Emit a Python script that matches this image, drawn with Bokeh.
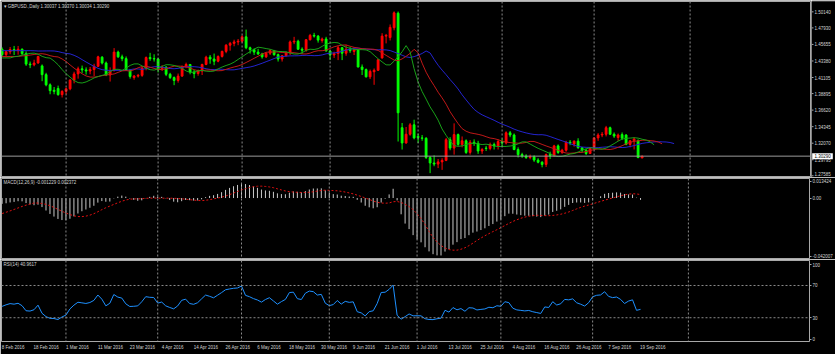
import numpy as np
from bokeh.plotting import figure
from bokeh.models import (Range1d, FixedTicker, Span, Label, ColumnDataSource)
from bokeh.layouts import column, row
from bokeh.core.properties import value
from bokeh.embed import file_html
from bokeh.resources import INLINE

# ---------------- data ----------------
CHART_TITLE = "\u25be GBPUSD.,Daily  1.30037 1.30370 1.30034 1.30290"
MACD_TITLE = "MACD(12,26,9) -0.001229 0.002372"
RSI_TITLE = "RSI(14) 40.9617"

OPEN = [
    1.4500, 1.4425, 1.4465, 1.4495, 1.4480, 1.4500, 1.4440, 1.4295, 1.4285, 1.4310,
    1.4270, 1.4150, 1.4010, 1.3935, 1.3960, 1.3875, 1.3920, 1.3955, 1.4075, 1.4160,
    1.4230, 1.4215, 1.4200, 1.4220, 1.4265, 1.4390, 1.4310, 1.4145, 1.4205, 1.4460,
    1.4395, 1.4370, 1.4210, 1.4110, 1.4130, 1.4140, 1.4240, 1.4385, 1.4370, 1.4365,
    1.4230, 1.4255, 1.4155, 1.4110, 1.4070, 1.4130, 1.4260, 1.4290, 1.4185, 1.4165,
    1.4200, 1.4290, 1.4390, 1.4365, 1.4335, 1.4400, 1.4470, 1.4555, 1.4580, 1.4600,
    1.4610, 1.4670, 1.4520, 1.4495, 1.4460, 1.4435, 1.4395, 1.4445, 1.4480, 1.4425,
    1.4365, 1.4410, 1.4450, 1.4600, 1.4610, 1.4500, 1.4485, 1.4630, 1.4690, 1.4680,
    1.4620, 1.4640, 1.4475, 1.4420, 1.4440, 1.4520, 1.4445, 1.4500, 1.4470, 1.4490,
    1.4255, 1.4220, 1.4120, 1.4190, 1.4210, 1.4380, 1.4680, 1.4660, 1.4795, 1.4995,
    1.3420, 1.3210, 1.3330, 1.3460, 1.3300, 1.3280, 1.3275, 1.3010, 1.2935, 1.2920,
    1.2950, 1.2970, 1.3255, 1.3140, 1.3325, 1.3190, 1.3240, 1.3080, 1.3220, 1.3205,
    1.3100, 1.3140, 1.3135, 1.3190, 1.3170, 1.3230, 1.3210, 1.3350, 1.3320, 1.3120,
    1.3050, 1.3030, 1.3010, 1.3020, 1.2975, 1.2945, 1.2915, 1.3050, 1.3035, 1.3170,
    1.3080, 1.3110, 1.3220, 1.3195, 1.3235, 1.3145, 1.3110, 1.3065, 1.3135, 1.3280,
    1.3320, 1.3330, 1.3420, 1.3330, 1.3285, 1.3325, 1.3320, 1.3190, 1.3240, 1.3240,
    1.30037]
HIGH = [
    1.4525, 1.4480, 1.4530, 1.4545, 1.4545, 1.4510, 1.4470, 1.4330, 1.4355, 1.4410,
    1.4290, 1.4175, 1.4030, 1.3980, 1.3999, 1.3935, 1.3970, 1.4090, 1.4190, 1.4260,
    1.4275, 1.4250, 1.4255, 1.4300, 1.4410, 1.4405, 1.4330, 1.4250, 1.4515, 1.4480,
    1.4425, 1.4400, 1.4225, 1.4145, 1.4160, 1.4260, 1.4400, 1.4450, 1.4430, 1.4380,
    1.4280, 1.4265, 1.4175, 1.4125, 1.4165, 1.4275, 1.4315, 1.4295, 1.4215, 1.4220,
    1.4300, 1.4410, 1.4420, 1.4440, 1.4415, 1.4480, 1.4570, 1.4600, 1.4630, 1.4640,
    1.4690, 1.4770, 1.4535, 1.4510, 1.4505, 1.4450, 1.4460, 1.4500, 1.4490, 1.4440,
    1.4420, 1.4470, 1.4620, 1.4670, 1.4630, 1.4525, 1.4640, 1.4710, 1.4725, 1.4695,
    1.4660, 1.4670, 1.4480, 1.4465, 1.4550, 1.4530, 1.4560, 1.4530, 1.4525, 1.4500,
    1.4290, 1.4235, 1.4220, 1.4235, 1.4360, 1.4720, 1.4710, 1.4840, 1.5020, 1.5018,
    1.3485, 1.3430, 1.3485, 1.3530, 1.3340, 1.3320, 1.3290, 1.3030, 1.3040, 1.2990,
    1.3000, 1.3280, 1.3290, 1.3480, 1.3340, 1.3300, 1.3260, 1.3250, 1.3260, 1.3240,
    1.3140, 1.3170, 1.3215, 1.3215, 1.3260, 1.3270, 1.3370, 1.3375, 1.3340, 1.3150,
    1.3075, 1.3055, 1.3050, 1.3040, 1.3000, 1.2960, 1.3065, 1.3090, 1.3185, 1.3190,
    1.3130, 1.3240, 1.3250, 1.3245, 1.3275, 1.3155, 1.3130, 1.3150, 1.3290, 1.3345,
    1.3360, 1.3445, 1.3435, 1.3355, 1.3340, 1.3355, 1.3330, 1.3250, 1.3290, 1.3260,
    1.30370]
LOW = [
    1.4395, 1.4385, 1.4430, 1.4420, 1.4425, 1.4415, 1.4270, 1.4240, 1.4265, 1.4300,
    1.4060, 1.3990, 1.3880, 1.3880, 1.3860, 1.3836, 1.3880, 1.3935, 1.4030, 1.4095,
    1.4170, 1.4150, 1.4155, 1.4130, 1.4255, 1.4290, 1.4130, 1.4055, 1.4195, 1.4380,
    1.4335, 1.4200, 1.4095, 1.4080, 1.4110, 1.4120, 1.4210, 1.4340, 1.4330, 1.4180,
    1.4200, 1.4130, 1.4090, 1.4005, 1.4040, 1.4120, 1.4240, 1.4155, 1.4100, 1.4135,
    1.4145, 1.4280, 1.4300, 1.4280, 1.4320, 1.4385, 1.4445, 1.4480, 1.4540, 1.4555,
    1.4590, 1.4500, 1.4440, 1.4420, 1.4420, 1.4370, 1.4380, 1.4420, 1.4410, 1.4330,
    1.4330, 1.4400, 1.4420, 1.4570, 1.4490, 1.4435, 1.4465, 1.4620, 1.4660, 1.4590,
    1.4590, 1.4470, 1.4350, 1.4380, 1.4350, 1.4350, 1.4410, 1.4450, 1.4420, 1.4250,
    1.4145, 1.4110, 1.4090, 1.4010, 1.4200, 1.4370, 1.4580, 1.4620, 1.4760, 1.3230,
    1.3120, 1.3200, 1.3310, 1.3260, 1.3210, 1.3240, 1.2990, 1.2795, 1.2890, 1.2865,
    1.2840, 1.2960, 1.3110, 1.3050, 1.3170, 1.3150, 1.3060, 1.3050, 1.3170, 1.3060,
    1.3060, 1.3100, 1.3110, 1.3120, 1.3120, 1.3160, 1.3190, 1.3290, 1.3110, 1.3010,
    1.3005, 1.2990, 1.2985, 1.2950, 1.2930, 1.2875, 1.2880, 1.2990, 1.3020, 1.3060,
    1.3060, 1.3090, 1.3180, 1.3160, 1.3130, 1.3080, 1.3045, 1.3060, 1.3110, 1.3240,
    1.3290, 1.3300, 1.3320, 1.3280, 1.3240, 1.3250, 1.3180, 1.3150, 1.3120, 1.3000,
    1.30034]
CLOSE = [
    1.4425, 1.4465, 1.4495, 1.4480, 1.4500, 1.4440, 1.4295, 1.4285, 1.4310, 1.4400,
    1.4150, 1.4010, 1.3930, 1.3920, 1.3875, 1.3920, 1.3955, 1.4075, 1.4160, 1.4230,
    1.4215, 1.4200, 1.4220, 1.4265, 1.4395, 1.4310, 1.4145, 1.4205, 1.4460, 1.4395,
    1.4370, 1.4210, 1.4125, 1.4130, 1.4140, 1.4240, 1.4385, 1.4370, 1.4365, 1.4230,
    1.4255, 1.4155, 1.4110, 1.4070, 1.4130, 1.4260, 1.4290, 1.4185, 1.4165, 1.4200,
    1.4290, 1.4390, 1.4365, 1.4335, 1.4400, 1.4470, 1.4555, 1.4580, 1.4600, 1.4610,
    1.4670, 1.4520, 1.4495, 1.4460, 1.4435, 1.4395, 1.4445, 1.4480, 1.4425, 1.4365,
    1.4410, 1.4450, 1.4600, 1.4610, 1.4500, 1.4485, 1.4630, 1.4690, 1.4680, 1.4625,
    1.4640, 1.4475, 1.4420, 1.4440, 1.4520, 1.4445, 1.4500, 1.4480, 1.4490, 1.4255,
    1.4220, 1.4120, 1.4195, 1.4210, 1.4355, 1.4680, 1.4690, 1.4800, 1.5000, 1.3625,
    1.3210, 1.3330, 1.3460, 1.3280, 1.3285, 1.3275, 1.3010, 1.2935, 1.2920, 1.2950,
    1.2970, 1.3255, 1.3140, 1.3325, 1.3190, 1.3240, 1.3080, 1.3220, 1.3205, 1.3100,
    1.3120, 1.3135, 1.3190, 1.3170, 1.3230, 1.3210, 1.3350, 1.3320, 1.3120, 1.3050,
    1.3030, 1.3010, 1.3020, 1.2975, 1.2945, 1.2915, 1.3050, 1.3035, 1.3170, 1.3080,
    1.3110, 1.3220, 1.3210, 1.3235, 1.3145, 1.3110, 1.3065, 1.3135, 1.3280, 1.3320,
    1.3330, 1.3420, 1.3330, 1.3305, 1.3320, 1.3275, 1.3190, 1.3240, 1.3265, 1.3010,
    1.30290]

DATE_LABEL_BARS = [0, 8, 16, 24, 32, 40, 48, 56, 64, 72, 80, 88, 96, 104, 112, 120,
                   128, 136, 144, 152, 160]
DATE_LABELS = ["8 Feb 2016", "18 Feb 2016", "1 Mar 2016", "11 Mar 2016", "23 Mar 2016",
               "4 Apr 2016", "14 Apr 2016", "26 Apr 2016", "6 May 2016", "18 May 2016",
               "30 May 2016", "9 Jun 2016", "21 Jun 2016", "1 Jul 2016", "13 Jul 2016",
               "25 Jul 2016", "4 Aug 2016", "16 Aug 2016", "26 Aug 2016", "7 Sep 2016",
               "19 Sep 2016"]
MONTH_START_BARS = [16, 39, 60, 82, 104, 125, 148, 172]

PRICE_TICKS = [1.50140, 1.47930, 1.45655, 1.43380, 1.41105, 1.38895, 1.36620,
               1.34345, 1.32070, 1.29795, 1.27585]
MACD_TICKS = [0.0114, 0.0, -0.0402]
MACD_TICK_TEXT = ["0.013424", "0.00", "-0.042007"]
RSI_TICKS = [96.0, 70.0, 30.0, 3.5]
RSI_TICK_TEXT = ["100", "70", "30", "0"]
RSI_LEVELS = [70, 30]

# indicator parameters and starting states (history before the first bar)
JAW_N, JAW_SHIFT, JAW_SEED = 13, 8, 1.4480
TEETH_N, TEETH_SHIFT, TEETH_SEED = 8, 5, 1.4400
LIPS_N, LIPS_SHIFT, LIPS_SEED = 5, 3, 1.4380
EMA_FAST_SEED, EMA_SLOW_SEED, SIGNAL_SEED = 1.4460, 1.4500, -0.0115
RSI_GAIN_SEED, RSI_LOSS_SEED = 0.0040, 0.0045

# ---------------- indicators ----------------
o = np.array(OPEN); h = np.array(HIGH); l = np.array(LOW); c = np.array(CLOSE)
n = len(c)
idx = np.arange(n)
median = (h + l) / 2.0


def smma(series, period, seed):
    out, s = [], seed
    for v in series:
        s = (s * (period - 1) + v) / period
        out.append(s)
    return out


jaw = [JAW_SEED] * JAW_SHIFT + smma(median, JAW_N, JAW_SEED)
teeth = [TEETH_SEED] * TEETH_SHIFT + smma(median, TEETH_N, TEETH_SEED)
lips = [LIPS_SEED] * LIPS_SHIFT + smma(median, LIPS_N, LIPS_SEED)

e12, e26 = EMA_FAST_SEED, EMA_SLOW_SEED
macd = []
for v in c:
    e12 += (2 / 13) * (v - e12)
    e26 += (2 / 27) * (v - e26)
    macd.append(e12 - e26)
signal = []
for i in range(n):
    win = macd[max(0, i - 8):i + 1]
    signal.append((sum(win) + (9 - len(win)) * SIGNAL_SEED) / 9.0)

g, ls = RSI_GAIN_SEED, RSI_LOSS_SEED
rsi = []
prev = o[0]
for v in c:
    d = v - prev
    g = (g * 13 + max(d, 0)) / 14
    ls = (ls * 13 + max(-d, 0)) / 14
    rsi.append(100 - 100 / (1 + g / ls))
    prev = v

# ---------------- styling ----------------
W = 835
AXIS_W = 24
FONT = "Liberation Sans"
FS_PX = 4.5
FS = "%spx" % FS_PX
TXT = "#d4d4d4"
FRAME = "#a8a8a8"
GRID = "#8a8a8a"
UP = "#ff0000"
DOWN = "#00ff00"
PX_PER_BAR = 4.0

xr = Range1d(-0.15, 202.35)
price_r = Range1d(1.27352, 1.51561)
macd_r = Range1d(-0.0423, 0.01345)
rsi_r = Range1d(0.5, 101.0)


def style_axis(ax):
    ax.axis_line_color = None
    ax.major_tick_in = 0
    ax.minor_tick_out = 0
    ax.minor_tick_in = 0
    ax.major_tick_line_color = FRAME
    ax.major_label_text_color = TXT
    ax.major_label_text_font = FONT
    ax.major_label_text_font_size = FS
    ax.major_label_standoff = 1


def make_fig(width, height, yr, top, bottom, right, x_axis=None, y_axis="right"):
    p = figure(width=width, height=height, x_range=xr, y_range=yr, output_backend="svg",
               toolbar_location=None, x_axis_location=x_axis, y_axis_location=y_axis,
               min_border_left=1, min_border_right=right, min_border_top=top,
               min_border_bottom=bottom, background_fill_color="black",
               border_fill_color="black", outline_line_color=FRAME, outline_line_width=1)
    p.grid.visible = False
    if y_axis is not None:
        style_axis(p.yaxis[0])
        p.yaxis[0].major_tick_out = 2
    for b in MONTH_START_BARS:
        p.add_layout(Span(location=b, dimension="height", line_color=GRID,
                          line_width=1, line_dash="2 2"))
    return p


def corner_label(p, text, y, dy, x=2):
    p.add_layout(Label(x=x, x_units="screen", y=y, y_offset=dy, text=text,
                       text_color=TXT, text_font=FONT, text_font_size=FS,
                       text_baseline="middle", text_align="left"))


# approximate advance widths (em) of the label font, used to left-align date labels
CHAR_EM = {" ": 0.278, "F": 0.611, "M": 0.833, "A": 0.667, "J": 0.5, "S": 0.667, "l": 0.222}


def text_width_px(s):
    return sum(CHAR_EM.get(ch, 0.556) for ch in s) * FS_PX


# ---- main price panel (chart + price scale strip) ----
p1 = make_fig(W - AXIS_W, 177, price_r, 1, 0, 0, y_axis=None)
p1.add_layout(Span(location=CLOSE[-1], dimension="width", line_color="#9a9a9a", line_width=1))

up = c > o
src = ColumnDataSource(dict(x=idx, h=h, l=l, top=np.maximum(o, c), bottom=np.minimum(o, c),
                            color=[UP if u else DOWN for u in up]))
p1.segment(x0="x", y0="l", x1="x", y1="h", line_color="color", line_width=1, source=src)
p1.vbar(x="x", width=0.45, top="top", bottom="bottom", fill_color="color",
        line_color="color", line_width=1, source=src)

p1.line(np.arange(len(jaw)), jaw, line_color="#2424d0", line_width=1)
p1.line(np.arange(len(teeth)), teeth, line_color="#c01818", line_width=1)
p1.line(np.arange(len(lips)), lips, line_color="#18a018", line_width=1)
corner_label(p1, CHART_TITLE, price_r.end, -4.5, x=2)

# price scale: ticks and labels placed through the shared price range
ps = figure(width=AXIS_W, height=177, x_range=Range1d(0, AXIS_W), y_range=price_r,
            output_backend="svg", toolbar_location=None, x_axis_location=None,
            y_axis_location=None, min_border_left=0, min_border_right=0, min_border_top=1,
            min_border_bottom=0, background_fill_color="black", border_fill_color="black",
            outline_line_color=None)
ps.grid.visible = False
ps.segment(x0=0, x1=2, y0=PRICE_TICKS, y1=PRICE_TICKS, line_color=FRAME, line_width=1)
inner_ticks = PRICE_TICKS[:-1]
ps.text(x=3, y=inner_ticks, text=["%.5f" % t for t in inner_ticks], text_color=TXT,
        text_font=value(FONT), text_font_size=value(FS), text_baseline="middle",
        text_align="left")
# the lowest level sits on the panel edge: keep its label inside, just above it
ps.text(x=3, y=[PRICE_TICKS[-1]], text=["%.5f" % PRICE_TICKS[-1]], text_color=TXT,
        text_font=value(FONT), text_font_size=value(FS), text_baseline="bottom",
        text_align="left")
# current bid price box
ps.rect(x=11, y=CLOSE[-1], width=20.6, height=6, height_units="screen",
        fill_color="white", line_color=None)
ps.text(x=3, y=[CLOSE[-1]], text=["%.5f" % CLOSE[-1]], text_color="black",
        text_font=value(FONT), text_font_size=value(FS), text_baseline="middle",
        text_align="left")

# ---- MACD panel ----
p2 = make_fig(W, 82, macd_r, 1, 0, AXIS_W)
p2.yaxis[0].ticker = FixedTicker(ticks=MACD_TICKS)
p2.yaxis[0].major_label_overrides = dict(zip(MACD_TICKS, MACD_TICK_TEXT))
p2.segment(x0=idx, y0=np.zeros(n), x1=idx, y1=macd, line_color="#c8c8c8", line_width=1)
p2.line(idx, signal, line_color="#e01010", line_width=1, line_dash="2 2")
corner_label(p2, MACD_TITLE, macd_r.end, -3.5)

# ---- RSI panel with the time axis ----
p3 = make_fig(W, 95, rsi_r, 1, 13, AXIS_W, x_axis="below")
p3.yaxis[0].ticker = FixedTicker(ticks=RSI_TICKS)
p3.yaxis[0].major_label_overrides = dict(zip(RSI_TICKS, RSI_TICK_TEXT))
for lv in RSI_LEVELS:
    p3.add_layout(Span(location=lv, dimension="width", line_color=GRID, line_width=1,
                       line_dash="2 2"))
p3.line(idx, rsi, line_color="#1e90ff", line_width=1)
corner_label(p3, RSI_TITLE, rsi_r.end, -4)

# time axis: terminal labels start at their bar, so centre each on bar + half its width
date_ticks = [bx + text_width_px(t) / 2.0 / PX_PER_BAR - 0.1
              for bx, t in zip(DATE_LABEL_BARS, DATE_LABELS)]
xa = p3.xaxis[0]
style_axis(xa)
xa.major_tick_out = 0
xa.major_tick_line_color = None
xa.major_label_standoff = 3
xa.ticker = FixedTicker(ticks=date_ticks)
xa.major_label_overrides = dict(zip(date_ticks, DATE_LABELS))

layout = column(row(p1, ps, spacing=0), p2, p3, spacing=0)
open("out.html", "w").write(file_html(layout, INLINE))
